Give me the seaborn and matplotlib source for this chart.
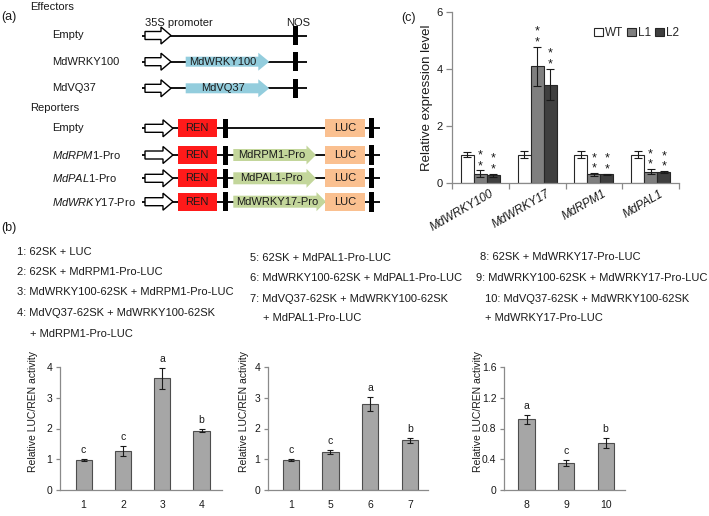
import numpy as np
import pandas as pd
import matplotlib
matplotlib.use("Agg")
import matplotlib.pyplot as plt
import seaborn as sns
from matplotlib.patches import FancyArrow, Rectangle, Patch
from matplotlib.transforms import ScaledTranslation

# ---------------- data ----------------
genes = ["MdWRKY100", "MdWRKY17", "MdRPM1", "MdPAL1"]
lines = ["WT", "L1", "L2"]
expr_WT = [1.00, 1.00, 1.00, 1.00]
expr_L1 = [0.32, 4.10, 0.30, 0.40]
expr_L2 = [0.27, 3.45, 0.30, 0.38]
err_WT = [0.08, 0.13, 0.13, 0.14]
err_L1 = [0.12, 0.68, 0.04, 0.08]
err_L2 = [0.05, 0.55, 0.03, 0.03]

b1_labels = ["1", "2", "3", "4"]
b1_vals = [0.97, 1.28, 3.63, 1.93]
b1_err = [0.03, 0.16, 0.35, 0.04]
b1_letters = ["c", "c", "a", "b"]

b2_labels = ["1", "5", "6", "7"]
b2_vals = [0.98, 1.23, 2.80, 1.62]
b2_err = [0.03, 0.06, 0.24, 0.08]
b2_letters = ["c", "c", "a", "b"]

b3_labels = ["8", "9", "10"]
b3_vals = [0.92, 0.35, 0.61]
b3_err = [0.06, 0.04, 0.06]
b3_letters = ["a", "c", "b"]

combo_col1 = ["1: 62SK + LUC", "2: 62SK + MdRPM1-Pro-LUC",
              "3: MdWRKY100-62SK + MdRPM1-Pro-LUC",
              "4: MdVQ37-62SK + MdWRKY100-62SK", "+ MdRPM1-Pro-LUC"]
combo_col2 = ["5: 62SK + MdPAL1-Pro-LUC", "6: MdWRKY100-62SK + MdPAL1-Pro-LUC",
              "7: MdVQ37-62SK + MdWRKY100-62SK", "+ MdPAL1-Pro-LUC"]
combo_col3 = ["8: 62SK + MdWRKY17-Pro-LUC", "9: MdWRKY100-62SK + MdWRKY17-Pro-LUC",
              "10: MdVQ37-62SK + MdWRKY100-62SK", "+ MdWRKY17-Pro-LUC"]

# ---------------- style ----------------
sns.set_theme(style="white")
plt.rcParams["font.family"] = ["Liberation Sans", "DejaVu Sans"]
plt.rcParams["mathtext.fontset"] = "custom"
plt.rcParams["mathtext.rm"] = "Liberation Sans"
plt.rcParams["mathtext.it"] = "Liberation Sans:italic"
plt.rcParams["mathtext.bf"] = "Liberation Sans:bold"

W, H = 709, 516
fig = plt.figure(figsize=(W / 100, H / 100), dpi=100)

# overlay axes in pixel coordinates for schematic and text
ov = fig.add_axes([0, 0, 1, 1])
ov.set_xlim(0, W)
ov.set_ylim(H, 0)
ov.axis("off")

TXT = "#1a1a1a"
BLUE = "#93cddd"
GREEN = "#c3d69b"
RED = "#ff1a1a"
PEACH = "#fac090"

def px(x, y, s, **kw):
    kw.setdefault("fontsize", 8)
    kw.setdefault("va", "center")
    kw.setdefault("ha", "left")
    kw.setdefault("color", TXT)
    ov.text(x, y, s, **kw)

def open_arrow(x0, x1, y):
    ov.add_patch(FancyArrow(x0, y, x1 - x0, 0, width=8, head_width=17, head_length=10,
                            length_includes_head=True, fc="white", ec="black", lw=1.0, zorder=3))

def bar_mark(x, y, w=4.5, h=19):
    ov.add_patch(Rectangle((x, y - h / 2), w, h, fc="black", ec="none", zorder=3))

# ---- panel (a) ----
px(1, 17, "(a)", fontsize=9)
px(30.5, 7.5, "Effectors")
px(145, 23.5, "35S promoter")
px(286, 23.5, "NOS")
eff_rows = [("Empty", None, 35.5), ("MdWRKY100", "MdWRKY100", 61.7), ("MdVQ37", "MdVQ37", 88.3)]
for lab, gene, y in eff_rows:
    px(51.7, y, lab)
    ov.plot([141.5, 306.7], [y, y], color="black", lw=1.3, zorder=2, solid_capstyle="butt")
    open_arrow(145, 171, y)
    bar_mark(293.3, y)
    if gene:
        ov.add_patch(FancyArrow(185.7, y, 83.6, 0, width=10, head_width=18, head_length=11,
                                length_includes_head=True, fc=BLUE, ec="none", zorder=3))
        px(222.5, y, gene, ha="center", zorder=4)

px(30.5, 108.3, "Reporters")
rep_rows = [("Empty", None, 316, 128.3),
            (r"$\mathit{MdRPM1}$-Pro", "MdRPM1-Pro", 316, 155.0),
            (r"$\mathit{MdPAL1}$-Pro", "MdPAL1-Pro", 316, 178.3),
            (r"$\mathit{MdWRKY17}$-Pro", "MdWRKY17-Pro", 326, 201.7)]
for lab, prom, xend, y in rep_rows:
    px(51.7, y, lab)
    ov.plot([141.5, 380], [y, y], color="black", lw=1.3, zorder=2, solid_capstyle="butt")
    open_arrow(145, 173, y)
    ov.add_patch(Rectangle((177.7, y - 9), 39, 18, fc=RED, ec="none", zorder=3))
    px(197.2, y, "REN", ha="center", zorder=4)
    bar_mark(222.9, y, w=4.8)
    if prom:
        ov.add_patch(FancyArrow(233.3, y, xend - 233.3, 0, width=12, head_width=19,
                                head_length=9.5, length_includes_head=True,
                                fc=GREEN, ec="none", zorder=3))
        px(233.3 + (xend - 233.3 - 9.5) / 2 + 2, y, prom, ha="center", zorder=4)
    ov.add_patch(Rectangle((325, y - 9), 40, 18, fc=PEACH, ec="none", zorder=3))
    px(345, y, "LUC", ha="center", zorder=4)
    bar_mark(369.3, y, w=4.2, h=20)

# ---- panel (b) text ----
px(1, 228, "(b)", fontsize=9)
for s, (x, y) in zip(combo_col1, [(16.7, 252), (16.7, 272), (16.7, 292), (16.7, 313), (30, 334)]):
    px(x, y, s)
for s, (x, y) in zip(combo_col2, [(250, 258), (250, 278), (250, 299), (262.7, 318)]):
    px(x, y, s)
for s, (x, y) in zip(combo_col3, [(480.5, 257.5), (476, 278), (485, 299), (485, 318)]):
    px(x, y, s)

px(401, 18, "(c)", fontsize=9)

SPINE = "#8a8a8a"

def style_axes(ax):
    sns.despine(ax=ax)
    for sp in ["left", "bottom"]:
        ax.spines[sp].set_color(SPINE)
        ax.spines[sp].set_linewidth(0.9)
    ax.set_facecolor("none")

# ---- panel (c) ----
axc = fig.add_axes([452 / W, 1 - 183 / H, 227 / W, 171 / H])
dfc = pd.DataFrame({
    "gene": genes * 3,
    "line": sum([[l] * len(genes) for l in lines], []),
    "value": expr_WT + expr_L1 + expr_L2,
})
sns.barplot(data=dfc, x="gene", y="value", hue="line", order=genes, hue_order=lines,
            palette=["white", "#7f7f7f", "#3f3f3f"], edgecolor="#262626", linewidth=0.8,
            width=0.69, errorbar=None, legend=False, ax=axc)
vals_c = [expr_WT, expr_L1, expr_L2]
errs_c = [err_WT, err_L1, err_L2]
bar_conts = list(axc.containers)
for i, cont in enumerate(bar_conts):
    for j, bar in enumerate(list(cont)):
        xc = bar.get_x() + bar.get_width() / 2
        v, e = vals_c[i][j], errs_c[i][j]
        axc.errorbar(xc, v, yerr=e, color="#1a1a1a", lw=0.8, capsize=2.6, capthick=0.8, zorder=5)
        if i > 0:
            axc.annotate("*\n*", xy=(xc, v + e), xytext=(0, 1.5), textcoords="offset pixels",
                         ha="center", va="baseline", fontsize=9, color=TXT, linespacing=0.85)
axc.set_xlim(-0.5, 3.5)
axc.set_ylim(0, 6)
axc.set_yticks([0, 2, 4, 6])
axc.set_xlabel("")
axc.set_ylabel("Relative expression level", fontsize=9.5, color=TXT)
axc.yaxis.set_label_coords(-0.082, 0.5)
style_axes(axc)
axc.tick_params(axis="y", which="major", direction="out", length=4, width=0.9, color=SPINE,
                labelsize=8, pad=2.5, left=True, labelcolor=TXT)
axc.set_xticks([-0.5, 0.5, 1.5, 2.5, 3.5], minor=True)
axc.tick_params(axis="x", which="minor", direction="out", length=4, width=0.9, color=SPINE, bottom=True)
axc.tick_params(axis="x", which="major", length=0, labelsize=8.5, pad=3.5, labelcolor=TXT)
offset = ScaledTranslation(15 / 100, 0, fig.dpi_scale_trans)
for lab in axc.get_xticklabels():
    lab.set_rotation(30)
    lab.set_ha("right")
    lab.set_style("italic")
    lab.set_transform(lab.get_transform() + offset)
handles = [Patch(fc=c, ec="#262626", lw=0.8) for c in ["white", "#7f7f7f", "#3f3f3f"]]
axc.legend(handles, lines, ncol=3, frameon=False, loc="center right",
           bbox_to_anchor=(1.0, 0.877), fontsize=8.5, handlelength=0.75, handleheight=0.75,
           handletextpad=0.15, columnspacing=0.35, borderpad=0, borderaxespad=0)

# ---- panel (b) bar charts ----
def luc_panel(rect, labels, vals, errs, letters, ylim, yticks, yticklabels, xlim, label_x):
    ax = fig.add_axes(rect)
    sns.barplot(x=labels, y=vals, order=labels, color="#a6a6a6", edgecolor="#4d4d4d",
                linewidth=0.8, width=0.41, errorbar=None, ax=ax)
    bars = list(ax.patches)
    for j, bar in enumerate(bars):
        xc = bar.get_x() + bar.get_width() / 2
        ax.errorbar(xc, vals[j], yerr=errs[j], color="#1a1a1a", lw=0.8, capsize=2.4,
                    capthick=0.8, zorder=5)
        ax.annotate(letters[j], xy=(xc, vals[j] + errs[j]), xytext=(0, 6),
                    textcoords="offset pixels", ha="center", va="baseline",
                    fontsize=7.5, color=TXT)
    ax.set_xlim(*xlim)
    ax.set_ylim(*ylim)
    ax.set_yticks(yticks)
    ax.set_yticklabels(yticklabels)
    ax.set_xlabel("")
    ax.set_ylabel("Relative LUC/REN activity", fontsize=7.5, color=TXT)
    ax.yaxis.set_label_coords(label_x, 0.637)
    style_axes(ax)
    ax.tick_params(axis="y", direction="out", length=3, width=0.9, color=SPINE,
                   labelsize=7.5, pad=2.5, left=True, labelcolor=TXT)
    ax.tick_params(axis="x", length=0, labelsize=7.5, pad=7, labelcolor=TXT)
    return ax

yb = 1 - 490 / H
hb = 123 / H
luc_panel([60 / W, yb, 162 / W, hb], b1_labels, b1_vals, b1_err, b1_letters,
          (0, 4), [0, 1, 2, 3, 4], ["0", "1", "2", "3", "4"], (-0.6, 3.52), -0.133)
luc_panel([268 / W, yb, 160 / W, hb], b2_labels, b2_vals, b2_err, b2_letters,
          (0, 4), [0, 1, 2, 3, 4], ["0", "1", "2", "3", "4"], (-0.57, 3.45), -0.119)
luc_panel([504 / W, yb, 121 / W, hb], b3_labels, b3_vals, b3_err, b3_letters,
          (0, 1.6), [0, 0.4, 0.8, 1.2, 1.6], ["0", "0.4", "0.8", "1.2", "1.6"],
          (-0.57, 2.49), -0.174)

fig.savefig("out.png", dpi=100)
